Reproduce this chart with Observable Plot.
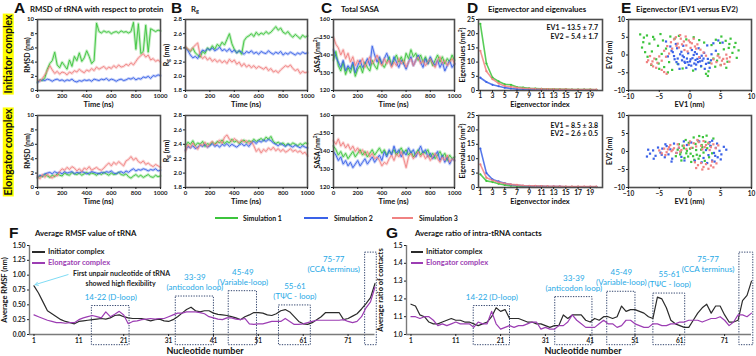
<!DOCTYPE html>
<html><head><meta charset="utf-8">
<script src="https://cdn.jsdelivr.net/npm/d3@7"></script>
<script src="https://cdn.jsdelivr.net/npm/@observablehq/plot@0.6"></script>
<style>
html,body{margin:0;padding:0;background:#fff;}
#fig{position:relative;width:756px;height:356px;overflow:hidden;font-family:Lato,"Open Sans",sans-serif;color:#111;}
.abs{position:absolute;white-space:nowrap;}
sub{font-size:70%;vertical-align:-0.25em;line-height:0;}
sup{font-size:70%;vertical-align:0.45em;line-height:0;}
</style></head><body><div id="fig"></div><script>
// ---------------- DATA ----------------
const simNames = ["Simulation 1", "Simulation 2", "Simulation 3"];
const timeNs = d3.range(0, 1001, 20);
// RMSD (nm) initiator complex
const rmsdInitSim1 = [1.2,1.5,1.4,1.8,3.0,3.8,4.2,5.4,3.6,3.2, 4.0,3.5,3.0,4.3,3.4,4.8,4.2,5.3,4.1,4.6, 5.6,4.8,3.8,4.2,9.5,8.3,8.1,8.4,8.2,8.3, 8.0,8.2,8.3,8.1,8.4,8.2,8.3,8.1,8.3,9.6, 5.8,9.4,5.2,5.5,9.2,5.4,8.7,8.5,8.3,8.5, 8.4];
const rmsdInitSim2 = [1.1,1.4,1.5,1.4,1.6,1.5,1.3,1.5,1.6,1.4, 1.5,1.3,1.5,1.4,1.6,1.3,1.2,1.4,1.3,1.5, 1.4,1.5,1.3,1.6,1.5,1.4,1.6,1.5,1.7,1.4, 1.6,1.5,1.3,1.5,1.6,1.4,1.5,1.7,1.6,1.8, 1.5,1.7,1.6,1.9,1.8,2.0,1.7,2.1,2.0,2.2, 2.1];
const rmsdInitSim3 = [1.5,1.3,1.7,2.2,2.8,3.5,2.9,2.4,2.7,2.3, 2.6,2.5,2.2,2.6,2.4,2.8,2.6,3.0,2.7,2.5, 2.9,2.7,3.1,2.8,3.3,3.0,3.2,3.4,3.0,3.3, 3.1,3.5,3.2,3.6,3.3,3.4,3.7,3.5,3.9,3.6, 4.1,4.6,4.9,5.2,4.7,5.0,4.3,4.5,4.1,4.3, 4.0];
// RMSD (nm) elongator complex
const rmsdElonSim1 = [1.3,1.6,1.5,1.8,1.6,1.4,1.7,1.5,1.9,1.7, 1.6,2.0,1.8,1.7,2.1,1.9,1.8,2.0,1.7,1.9, 2.1,1.8,2.0,1.9,1.7,2.0,1.8,2.1,1.9,1.7, 2.0,1.8,1.9,2.1,1.8,1.7,1.9,1.5,1.3,1.6, 1.8,1.5,1.7,1.4,1.6,1.8,1.5,1.4,1.7,1.5, 1.6];
const rmsdElonSim2 = [1.4,1.7,1.6,1.9,2.0,2.1,1.9,2.2,2.0,2.1, 1.9,2.2,2.0,2.1,2.2,1.9,2.1,2.0,2.2,2.1, 1.9,2.0,2.2,2.1,2.0,1.9,2.1,2.0,2.2,2.1, 2.3,2.0,1.9,2.1,2.2,2.0,2.3,2.1,2.4,2.6, 2.3,2.5,2.4,2.6,2.5,2.3,2.5,2.4,2.6,2.3, 2.4];
const rmsdElonSim3 = [1.6,1.2,1.8,1.4,1.9,1.5,1.3,1.7,1.6,2.2, 2.6,2.4,2.8,2.5,2.9,2.7,2.3,2.6,2.2,2.7, 2.5,2.9,2.4,2.6,2.8,2.5,2.4,2.7,3.1,3.4, 3.0,3.5,3.2,3.6,3.3,3.0,3.7,3.9,4.3,3.8, 4.1,3.6,3.4,3.7,3.2,3.4,3.1,2.9,3.2,3.0, 2.8];
// Rg (nm)
const rgInitSim1 = [2.41,2.38,2.35,2.40,2.33,2.30,2.27,2.35,2.32,2.40, 2.37,2.43,2.38,2.45,2.42,2.48,2.44,2.52,2.60,2.46, 2.38,2.33,2.36,2.31,2.50,2.55,2.57,2.60,2.56,2.62, 2.58,2.61,2.59,2.63,2.60,2.62,2.66,2.70,2.65,2.68, 2.62,2.60,2.63,2.58,2.55,2.59,2.56,2.53,2.58,2.55, 2.57];
const rgInitSim2 = [2.40,2.36,2.30,2.26,2.28,2.25,2.32,2.37,2.35,2.39, 2.37,2.40,2.36,2.38,2.41,2.36,2.38,2.35,2.39,2.34, 2.37,2.33,2.36,2.34,2.31,2.35,2.33,2.36,2.32,2.34, 2.31,2.35,2.33,2.32,2.36,2.33,2.31,2.34,2.32,2.35, 2.30,2.33,2.31,2.34,2.32,2.30,2.33,2.31,2.34,2.32, 2.33];
const rgInitSim3 = [2.42,2.38,2.36,2.40,2.44,2.47,2.30,2.25,2.28,2.23, 2.26,2.21,2.24,2.20,2.23,2.19,2.22,2.18,2.24,2.20, 2.23,2.17,2.20,2.14,2.18,2.13,2.16,2.12,2.15,2.11, 2.14,2.12,2.10,2.13,2.08,2.11,2.06,2.08,2.05,2.09, 2.12,2.15,2.13,2.16,2.11,2.08,2.10,2.04,2.07,2.05, 2.06];
const rgElonSim1 = [2.38,2.43,2.40,2.45,2.38,2.42,2.40,2.44,2.37,2.41, 2.39,2.43,2.40,2.44,2.42,2.46,2.41,2.44,2.42,2.47, 2.43,2.45,2.41,2.44,2.46,2.42,2.45,2.43,2.47,2.44, 2.46,2.48,2.45,2.50,2.47,2.51,2.44,2.41,2.43,2.40, 2.42,2.38,2.41,2.39,2.42,2.40,2.38,2.41,2.39,2.42, 2.41];
const rgElonSim2 = [2.32,2.37,2.35,2.38,2.34,2.36,2.39,2.37,2.40,2.36, 2.38,2.41,2.37,2.39,2.36,2.40,2.38,2.41,2.37,2.40, 2.38,2.36,2.39,2.41,2.38,2.40,2.37,2.42,2.44,2.41, 2.45,2.43,2.46,2.44,2.47,2.45,2.42,2.40,2.38,2.41, 2.39,2.37,2.40,2.38,2.36,2.39,2.37,2.35,2.38,2.36, 2.35];
const rgElonSim3 = [2.30,2.40,2.35,2.42,2.37,2.33,2.40,2.38,2.43,2.36, 2.41,2.44,2.39,2.42,2.46,2.41,2.50,2.53,2.47,2.44, 2.48,2.45,2.42,2.46,2.43,2.45,2.41,2.44,2.38,2.30, 2.34,2.28,2.33,2.30,2.35,2.32,2.36,2.31,2.34,2.30, 2.33,2.29,2.31,2.34,2.30,2.32,2.29,2.31,2.27,2.29, 2.24];
// SASA (nm^2)
const sasaInitSim1 = [137,142,134,131,136,129,133,130,135,128, 132,134,130,136,133,131,137,134,132,138, 135,133,136,139,134,137,140,136,139,135, 141,138,143,139,141,137,140,136,139,135, 138,134,137,140,136,139,135,138,136,140, 137];
const sasaInitSim2 = [143,139,136,133,137,131,134,132,136,130, 134,137,133,135,138,134,145,140,136,139, 135,138,141,137,134,139,136,133,137,135, 132,136,139,134,137,140,136,133,138,135, 139,136,134,137,133,136,131,134,137,133, 135];
const sasaInitSim3 = [150,146,144,140,143,138,141,136,139,134, 137,135,138,133,136,139,135,137,140,136, 134,138,135,137,133,136,134,138,135,137, 133,136,138,134,137,139,135,137,134,136, 138,135,133,137,139,135,137,134,136,138, 135];
const sasaElonSim1 = [143,141,138,140,137,139,136,138,140,137, 139,141,138,140,137,139,141,138,140,142, 139,141,138,140,139,141,138,140,142,139, 141,138,140,137,139,141,138,140,139,141, 137,139,136,138,140,137,139,135,138,136, 137];
const sasaElonSim2 = [140,138,135,137,133,135,132,134,131,133, 135,132,134,136,133,135,137,134,136,138, 135,140,137,141,138,143,139,141,137,140, 138,142,139,141,137,140,143,139,141,137, 139,136,138,140,135,138,134,137,133,136, 135];
const sasaElonSim3 = [146,144,147,143,145,142,144,141,143,140, 142,139,141,138,140,137,139,136,137,135, 132,134,133,136,138,135,139,137,140,136, 131,137,139,136,138,140,137,139,136,138, 135,137,139,136,134,137,135,138,134,136, 135];
// Eigenvalues (nm^2), eigenvector index 1..20
const eigIndex = d3.range(1, 21);
const eigInitSim1 = [23.5,9.5,4.5,3.2,2.2,2.0,1.2,1.0,0.8,0.7,0.6,0.5,0.5,0.4,0.4,0.35,0.3,0.3,0.3,0.25];
const eigInitSim2 = [4.5,3.0,2.0,1.5,1.0,0.7,0.5,0.4,0.35,0.3,0.3,0.25,0.25,0.2,0.2,0.2,0.2,0.2,0.15,0.15];
const eigInitSim3 = [14,6.8,4.0,2.5,1.6,1.3,1.0,0.8,0.7,0.6,0.55,0.5,0.45,0.4,0.4,0.35,0.35,0.3,0.3,0.3];
const eigElonSim1 = [4.6,2.3,1.9,1.3,0.9,0.6,0.5,0.4,0.35,0.3,0.3,0.25,0.25,0.2,0.2,0.2,0.2,0.15,0.15,0.15];
const eigElonSim2 = [13.5,5.0,2.8,2.1,1.5,1.0,0.8,0.6,0.5,0.45,0.4,0.35,0.3,0.3,0.25,0.25,0.2,0.2,0.2,0.2];
const eigElonSim3 = [8.0,3.4,2.5,1.8,1.4,1.1,0.9,0.7,0.6,0.55,0.5,0.45,0.4,0.4,0.35,0.35,0.3,0.3,0.3,0.3];
const eigInitText = ["EV1 = 13.5 ± 7.7", "EV2 = 5.4 ± 1.7"];
const eigElonText = ["EV1 = 8.5 ± 3.8", "EV2 = 2.6 ± 0.5"];
// Projections EV1 vs EV2 (nm)
const pcaInitSim1 = [[-8.1,5.8],[-7.5,4.9],[-7.0,5.5],[-6.6,3.2],[-7.8,2.1],[-6.2,1.0],[-5.8,4.4],[-5.2,2.6],[-4.8,5.9],[-6.9,-0.5],[-5.5,-1.2],[-4.6,0.3],[-6.3,-2.8],[-4.2,-3.4],[-3.6,-4.9],[-5.0,-3.9],[-7.3,0.8],[-3.9,1.8],[-4.4,4.1],[-3.2,5.2],[-2.5,4.6],[-1.8,5.4],[0.6,5.0],[1.5,4.2],[2.3,3.5],[-1.2,-3.8],[0.5,-4.4],[2.6,-5.3],[1.8,-3.2],[3.0,-4.6],[-2.0,-2.5],[3.5,2.8],[4.2,4.3],[5.1,5.2],[5.8,4.0],[6.4,3.1],[7.2,2.2],[6.9,0.6],[7.6,-0.8],[5.5,1.6],[4.6,0.2],[6.1,-1.9],[5.0,-2.8],[4.1,-3.3],[3.8,-1.0],[7.9,1.3],[6.6,4.6],[4.9,3.4],[3.2,-2.2],[5.9,-3.6],[-7.6,3.6],[-6.0,5.1],[-5.1,-2.4],[-3.4,-2.0],[6.3,2.0],[7.4,3.4],[2.9,-5.9],[-2.9,-4.2],[-0.6,4.4],[4.4,-1.6]];
const pcaInitSim2 = [[-3.2,2.4],[-2.8,0.8],[-2.5,-1.2],[-2.1,1.9],[-1.9,-2.6],[-1.6,0.2],[-1.3,-1.5],[-1.0,-0.6],[-0.8,-2.2],[-0.5,-1.0],[-0.3,0.5],[0.0,-1.8],[0.2,-3.0],[0.4,-0.9],[0.7,-2.4],[0.9,-1.4],[1.1,0.3],[1.3,-2.0],[1.6,-0.8],[1.8,-3.1],[2.0,-1.6],[2.3,0.6],[2.6,-2.5],[2.9,-1.1],[3.2,-3.6],[3.5,0.2],[-3.6,-0.4],[-3.9,3.8],[-2.3,3.1],[-1.1,2.6],[0.3,1.4],[1.4,1.9],[2.8,2.7],[3.8,3.3],[4.6,4.1],[5.3,3.5],[4.2,1.2],[-0.6,-3.6],[0.9,-4.0],[-1.7,-3.9],[-2.6,-0.3],[-0.2,-2.8],[1.9,-0.2],[2.4,-3.9],[-1.4,0.9],[0.6,0.0],[-0.9,-1.9],[1.2,-1.1],[-2.0,-1.0],[3.0,-2.2],[0.1,-1.2],[-0.4,-2.0],[1.0,-2.7],[2.2,-1.0],[-1.2,-0.2],[1.6,-1.8],[-2.2,-2.0],[0.8,0.8],[-3.0,1.2],[3.4,-1.5]];
const pcaInitSim3 = [[-4.2,1.2],[-3.7,2.5],[-3.1,3.6],[-2.6,4.4],[-2.0,3.2],[-1.5,4.6],[-1.0,3.8],[-0.6,2.7],[-0.2,4.1],[0.3,3.3],[0.8,2.4],[1.2,3.0],[1.7,1.5],[2.2,0.7],[2.6,-0.2],[-2.9,1.8],[-1.8,2.1],[-0.9,1.4],[0.1,2.0],[-3.4,0.4],[-2.3,5.0],[-0.7,5.2],[0.6,4.6],[1.5,-0.6],[-6.8,-1.5],[-6.3,-2.6],[-5.8,-1.0],[-5.3,-2.2],[-6.0,-3.2],[-5.0,-0.4],[-7.0,-2.0],[-5.5,-3.6],[-4.6,-1.6],[-4.2,-4.8],[-3.8,-5.3],[-4.6,-4.2],[-6.5,-0.3],[3.8,-1.2],[4.3,-2.0],[4.8,-0.7],[5.2,-1.6],[5.6,-2.5],[6.0,-1.0],[6.4,-1.9],[5.0,-2.9],[4.5,-0.2],[3.5,-2.4],[5.9,0.1],[6.5,-0.6],[-1.3,3.0],[0.0,3.6],[-2.2,2.6],[1.0,1.8],[-3.9,-0.5],[-6.1,-1.8],[5.4,-1.1],[-0.4,1.0],[-1.6,5.6]];
const pcaElonSim1 = [[-2.0,0.5],[-1.6,-0.8],[-1.2,1.6],[-0.9,-1.8],[-0.5,0.2],[-0.2,2.4],[0.1,-0.6],[0.4,1.0],[0.7,-2.3],[1.0,0.4],[1.3,3.0],[1.6,-1.2],[1.9,1.8],[2.2,-0.3],[2.5,2.7],[2.8,0.9],[3.1,-1.6],[3.4,1.4],[3.8,3.6],[0.6,3.9],[1.5,4.3],[2.1,4.0],[-0.7,3.2],[-1.4,-2.5],[0.2,-2.9],[2.4,-2.6],[-2.3,-1.3],[3.0,2.2],[-0.3,-1.4],[1.1,-0.9],[0.9,2.1],[-1.0,0.9],[3.6,-0.5],[1.8,0.5],[-1.8,2.0],[2.7,4.4],[0.0,0.8],[-0.6,-0.5],[1.4,-2.0],[2.0,1.2],[-1.5,-0.2],[0.5,-1.3]];
const pcaElonSim2 = [[-7.0,-1.4],[-6.5,-0.6],[-6.0,0.3],[-5.6,-1.2],[-5.2,1.1],[-4.8,-0.3],[-4.5,0.8],[-4.1,-1.6],[-3.8,1.5],[-3.5,-0.8],[-3.2,0.6],[-2.9,-2.0],[-2.6,2.2],[-2.2,-0.4],[-1.8,1.0],[-1.4,-1.5],[-5.9,-2.0],[-4.0,2.0],[2.2,-1.8],[2.6,0.4],[3.0,-1.0],[3.3,1.6],[3.6,-2.5],[3.9,-0.4],[4.2,1.0],[4.5,-1.6],[4.8,0.2],[5.1,-0.8],[5.5,1.3],[5.9,0.5],[4.0,-2.8],[3.2,2.6],[1.5,2.8],[0.8,-2.6],[-0.5,1.8],[-0.9,-2.5],[1.9,-3.0],[4.4,2.2],[-3.0,-2.8],[-6.8,0.5],[2.8,-3.2],[5.0,-2.2],[-1.0,2.8],[0.2,2.5],[3.6,3.0],[-4.6,-0.9],[4.1,-1.2]];
const pcaElonSim3 = [[-5.0,0.3],[-4.6,-0.5],[-4.2,0.8],[-3.8,-0.2],[-3.4,1.2],[-3.0,0.1],[-2.6,0.9],[-2.2,-0.4],[-1.8,1.1],[-1.4,0.4],[-1.0,1.6],[-0.6,0.7],[-0.2,1.9],[0.2,1.0],[0.6,2.3],[1.0,1.4],[1.4,2.6],[1.8,1.6],[2.2,2.9],[2.6,1.8],[3.0,2.4],[3.4,1.2],[3.8,2.0],[4.2,0.9],[4.6,1.7],[-3.2,1.8],[-2.0,2.0],[0.0,2.8],[2.0,0.6],[3.2,0.4],[-4.0,-1.0],[1.2,3.2],[0.8,-3.0],[1.3,-3.8],[1.8,-3.2],[2.2,-4.3],[2.6,-3.5],[3.0,-4.8],[3.4,-3.9],[3.8,-4.4],[4.3,-3.3],[2.0,-5.0],[1.0,-4.6],[3.6,-2.8],[-2.8,0.5],[-1.6,0.0],[2.4,1.2],[-3.6,0.6]];
// Per-nucleotide data (1..77)
const nucleotide = d3.range(1, 78);
const rmsfInit = [0.82,0.70,0.55,0.40,0.35,0.30,0.25,0.22,0.20,0.18, 0.22,0.23,0.24,0.25,0.26,0.27,0.26,0.28,0.32,0.33, 0.30,0.28,0.27,0.27,0.27,0.25,0.23,0.25,0.26,0.23, 0.22,0.25,0.30,0.36,0.42,0.46,0.40,0.38,0.40,0.40, 0.36,0.34,0.33,0.32,0.30,0.28,0.25,0.30,0.33,0.37, 0.37,0.36,0.33,0.32,0.35,0.40,0.42,0.38,0.30,0.22, 0.18,0.17,0.20,0.25,0.30,0.37,0.37,0.37,0.37,0.25, 0.27,0.31,0.35,0.43,0.52,0.62,0.86];
const rmsfElon = [0.33,0.30,0.27,0.24,0.22,0.20,0.20,0.19,0.20,0.20, 0.25,0.28,0.30,0.32,0.30,0.28,0.38,0.30,0.34,0.39, 0.33,0.18,0.22,0.23,0.25,0.26,0.27,0.26,0.27,0.27, 0.30,0.33,0.36,0.36,0.38,0.38,0.38,0.37,0.35,0.30, 0.28,0.26,0.25,0.28,0.28,0.26,0.25,0.27,0.18,0.17, 0.18,0.18,0.20,0.22,0.22,0.22,0.27,0.22,0.17,0.17, 0.18,0.20,0.22,0.24,0.24,0.24,0.24,0.24,0.24,0.25, 0.22,0.20,0.22,0.30,0.45,0.55,0.80];
const contactInit = [1.17,1.16,1.11,1.10,1.07,1.06,1.06,1.07,1.08,1.09, 1.08,1.08,1.07,1.07,1.06,1.05,1.06,1.07,1.10,1.15, 1.13,1.14,1.09,1.09,1.09,1.08,1.07,1.07,1.06,1.06, 1.05,1.04,1.05,1.05,1.11,1.09,1.11,1.11,1.11,1.08, 1.07,1.09,1.08,1.10,1.10,1.09,1.10,1.16,1.13,1.14, 1.14,1.13,1.12,1.10,1.09,1.21,1.20,1.15,1.08,1.06, 1.05,1.04,1.04,1.08,1.12,1.15,1.17,1.12,1.16,1.16, 1.11,1.07,1.07,1.08,1.19,1.22,1.30];
const contactElon = [1.10,1.10,1.09,1.10,1.10,1.08,1.05,1.06,1.05,1.06, 1.07,1.06,1.06,1.06,1.04,1.07,1.06,1.06,1.13,1.06, 1.03,1.04,1.05,1.04,1.05,1.05,1.06,1.07,1.07,1.03, 1.04,1.03,1.03,1.05,1.05,1.07,1.11,1.08,1.06,1.04, 1.04,1.04,1.06,1.08,1.06,1.06,1.04,1.05,1.08,1.08, 1.06,1.05,1.04,1.04,1.06,1.06,1.05,1.05,1.06,1.06, 1.07,1.07,1.08,1.08,1.08,1.07,1.08,1.09,1.09,1.10, 1.08,1.05,1.07,1.11,1.11,1.10,1.12];
const complexNames = ["Initiator complex", "Elongator complex"];
// tRNA regions (nucleotide extents of dashed boxes and their top value)
const regionLabels = [["", "14-22 (D-loop)"], ["33-39", "(anticodon loop)"], ["45-49", "(Variable-loop)"], ["55-61", "(TΨC - loop)"], ["75-77", "(CCA terminus)"]];
const rmsfRegionX = [[13.9,22.3],[32.6,41.1],[44.4,50.7],[55.6,62.7],[74.8,77.4]];
const rmsfRegionTop = [0.48,0.64,0.73,0.49,1.38];
const contactRegionX = [[15.0,23.1],[33.2,41.5],[44.8,51.1],[55.1,62.2],[74.3,77.4]];
const contactRegionTop = [1.16,1.21,1.24,1.23,1.46];
const flexNote = ["First unpair nucleotide of tRNA", "showed high flexibility"];

// ---------------- STYLE ----------------
const simColors = ["#3cc43c", "#3a62e8", "#f08282"];
const cplxColors = ["#2b2b2b", "#9c3db3"];
const cyan = "#27a9e6";
const frameColor = "#4d4d4d";
const fig = document.getElementById("fig");

function addText(html, x, y, o = {}) {
  const d = document.createElement("div");
  d.className = "abs";
  d.innerHTML = html;
  const s = d.style;
  s.left = x + "px"; s.top = y + "px";
  s.fontSize = (o.size || 7.5) + "px";
  s.fontWeight = o.weight || "bold";
  s.color = o.color || "#111";
  s.fontFamily = o.family || "Lato, sans-serif";
  s.lineHeight = o.lh || "1";
  const ax = o.anchor === "start" ? "0" : o.anchor === "end" ? "-100%" : "-50%";
  s.transform = `translate(${ax},-50%)` + (o.rotate ? " rotate(-90deg)" : "");
  if (o.bg) { s.background = o.bg; s.padding = o.pad || "1px 2px"; }
  fig.appendChild(d);
  return d;
}
function addLine(x1, x2, y, color, w = 2) {
  const d = document.createElement("div");
  d.className = "abs";
  Object.assign(d.style, {left: x1 + "px", top: (y - w / 2) + "px", width: (x2 - x1) + "px", height: w + "px", background: color});
  fig.appendChild(d);
}
function panel(b, opts, fs = 6.5) {
  const mL = 30, mR = 8, mT = 8, mB = 16;
  const chart = Plot.plot({
    width: b.x1 - b.x0 + mL + mR, height: b.y1 - b.y0 + mT + mB,
    marginLeft: mL, marginRight: mR, marginTop: mT, marginBottom: mB,
    style: {fontFamily: "Lato, sans-serif", fontSize: fs + "px", fontWeight: "bold", color: "#222", background: "none", overflow: "visible"},
    ...opts
  });
  chart.style.position = "absolute";
  chart.style.left = (b.x0 - mL) + "px";
  chart.style.top = (b.y0 - mT) + "px";
  fig.appendChild(chart);
}
const colorScale = {domain: simNames, range: simColors};
const intFmt = d3.format("d");
function seriesRows(arrs, xs) {
  const rows = [];
  arrs.forEach((arr, k) => arr.forEach((v, i) => rows.push({x: xs[i], v, sim: simNames[k]})));
  return rows;
}
function tsPanel(b, arrs, yDomain, yTicks, yFmt) {
  const rows = seriesRows(arrs, timeNs);
  panel(b, {
    x: {domain: [0, 1000]}, y: {domain: yDomain}, color: colorScale,
    marks: [
      Plot.line(rows, {x: "x", y: "v", z: "sim", stroke: "sim", strokeWidth: 2.8, strokeOpacity: 0.3}),
      Plot.line(rows, {x: "x", y: "v", z: "sim", stroke: "sim", strokeWidth: 0.9}),
      Plot.frame({stroke: frameColor, strokeWidth: 1.6}),
      Plot.axisX({ticks: [0, 200, 400, 600, 800, 1000], tickFormat: intFmt, tickSize: 2, tickPadding: 1.5, label: null}),
      Plot.axisY({ticks: yTicks, tickFormat: yFmt || intFmt, tickSize: 2, tickPadding: 1.5, label: null})
    ]
  }, 6);
}
function eigPanel(b, arrs) {
  const rows = seriesRows(arrs, eigIndex);
  panel(b, {
    x: {domain: [0.7, 21]}, y: {domain: [0, 25]}, color: colorScale,
    marks: [
      Plot.line(rows, {x: "x", y: "v", z: "sim", stroke: "sim", strokeWidth: 1.6, strokeOpacity: 0.85}),
      Plot.dot(rows, {x: "x", y: "v", fill: "sim", r: 1.1}),
      Plot.frame({stroke: frameColor, strokeWidth: 1.6}),
      Plot.axisX({ticks: d3.range(1, 20, 2), tickSize: 2, tickPadding: 1, label: null}),
      Plot.axisY({ticks: [0, 5, 10, 15, 20, 25], tickSize: 2, tickPadding: 1.5, label: null})
    ]
  }, 6.8);
}
function pcaPanel(b, arrs) {
  const rows = [];
  arrs.forEach((arr, k) => arr.forEach(([x, y]) => rows.push({x, y, sim: simNames[k]})));
  panel(b, {
    x: {domain: [-10, 10]}, y: {domain: [-10, 10]}, color: colorScale,
    marks: [
      Plot.dot(rows, {x: "x", y: "y", fill: "sim", r: 1.25, symbol: "square"}),
      Plot.frame({stroke: frameColor, strokeWidth: 1.6}),
      Plot.axisX({ticks: [-10, -5, 0, 5, 10], tickFormat: intFmt, tickSize: 2, tickPadding: 1.5, label: null}),
      Plot.axisY({ticks: [-10, -5, 0, 5, 10], tickFormat: intFmt, tickSize: 2, tickPadding: 1.5, label: null})
    ]
  }, 6.5);
}

// ---------------- LAYOUT ----------------
const rowTop = {y0: 19, y1: 90}, rowBot = {y0: 115, y1: 187};
const colA = {x0: 37, x1: 160}, colB = {x0: 185, x1: 307}, colC = {x0: 333, x1: 454}, colD = {x0: 478, x1: 602}, colE = {x0: 628, x1: 751};
const f1 = d3.format(".1f");
tsPanel({...colA, ...rowTop}, [rmsdInitSim1, rmsdInitSim2, rmsdInitSim3], [0, 10], [0, 2, 4, 6, 8, 10]);
tsPanel({...colA, ...rowBot}, [rmsdElonSim1, rmsdElonSim2, rmsdElonSim3], [0, 10], [0, 2, 4, 6, 8, 10]);
tsPanel({...colB, ...rowTop}, [rgInitSim1, rgInitSim2, rgInitSim3], [1.8, 2.8], [1.8, 2.0, 2.2, 2.4, 2.6, 2.8], f1);
tsPanel({...colB, ...rowBot}, [rgElonSim1, rgElonSim2, rgElonSim3], [1.8, 2.8], [1.8, 2.0, 2.2, 2.4, 2.6, 2.8], f1);
tsPanel({...colC, ...rowTop}, [sasaInitSim1, sasaInitSim2, sasaInitSim3], [120, 160], [120, 130, 140, 150, 160]);
tsPanel({...colC, ...rowBot}, [sasaElonSim1, sasaElonSim2, sasaElonSim3], [120, 160], [120, 130, 140, 150, 160]);
eigPanel({...colD, ...rowTop}, [eigInitSim1, eigInitSim2, eigInitSim3]);
eigPanel({...colD, ...rowBot}, [eigElonSim1, eigElonSim2, eigElonSim3]);
pcaPanel({...colE, ...rowTop}, [pcaInitSim1, pcaInitSim2, pcaInitSim3]);
pcaPanel({...colE, ...rowBot}, [pcaElonSim1, pcaElonSim2, pcaElonSim3]);

// eigen summary text
addText(eigInitText[0], 598, 26.5, {anchor: "end", size: 7});
addText(eigInitText[1], 598, 35.5, {anchor: "end", size: 7});
addText(eigElonText[0], 598, 124.5, {anchor: "end", size: 7});
addText(eigElonText[1], 598, 133, {anchor: "end", size: 7});

// panel letters and titles
const L = {family: "'Liberation Sans', Arial, sans-serif", size: 15.5, anchor: "start", weight: "bold"};
const T = {anchor: "start", size: 7.8};
addText("A", 14, 7.8, L);
addText("RMSD of tRNA with respect to protein", 30, 9.5, T);
addText("B", 171, 7.8, L);
addText("R<sub>g</sub>", 191, 9.5, T);
addText("C", 321, 7.8, L);
addText("Total SASA", 341, 9.5, T);
addText("D", 467, 7.8, L);
addText("Eigenvector and eigenvalues", 488, 9.5, T);
addText("E", 621, 7.8, L);
addText("Eigenvector (EV1 versus EV2)", 636, 9.5, T);

// side labels
addText(complexNames[0], 7.5, 54, {rotate: true, size: 10.5, bg: "#ffff00", pad: "0px 1px"});
addText(complexNames[1], 7.5, 152, {rotate: true, size: 10.5, bg: "#ffff00", pad: "0px 1px"});

// axis titles
for (const r of [{yc: 54.5, xl: 104.5}, {yc: 151, xl: 201.5}]) {
  addText("RMSD (nm)", 26.5, r.yc, {rotate: true, size: 7});
  addText("R<sub>g</sub> (nm)", 166, r.yc, {rotate: true, size: 7});
  addText("SASA (nm<sup>2</sup>)", 317, r.yc, {rotate: true, size: 7});
  addText("Eigenvalues (nm<sup>2</sup>)", 462, r.yc, {rotate: true, size: 7});
  addText("EV2 (nm)", 609, r.yc, {rotate: true, size: 7});
  addText("Time (ns)", 98.5, r.xl, {size: 7.5});
  addText("Time (ns)", 246, r.xl, {size: 7.5});
  addText("Time (ns)", 393.5, r.xl, {size: 7.5});
  addText("Eigenvector index", 540, r.xl, {size: 7.5});
  addText("EV1 (nm)", 689.5, r.xl, {size: 7.5});
}

// simulation legend
const legX = [[215, 238, 243], [304, 328, 334], [392, 413, 419]];
simNames.forEach((n, i) => {
  addLine(legX[i][0], legX[i][1], 218, simColors[i], 2);
  addText(n, legX[i][2], 218, {anchor: "start", size: 7});
});

// ---------------- F and G ----------------
function nucPanel(b, arrs, yDomain, yTicks, yFmt, regX, regTop, regBottom, extra) {
  const rows = [];
  arrs.forEach((arr, k) => arr.forEach((v, i) => rows.push({x: nucleotide[i], v, c: complexNames[k]})));
  const regs = regX.map((r, i) => ({x1: r[0], x2: r[1], top: regTop[i], bottom: regBottom, l1: regionLabels[i][0], l2: regionLabels[i][1], last: i === regX.length - 1}));
  const inner = regs.filter(d => !d.last), last = regs.filter(d => d.last);
  const mid = d => (d.x1 + d.x2) / 2;
  panel(b, {
    x: {domain: [0, 77]}, y: {domain: yDomain},
    color: {domain: complexNames, range: cplxColors},
    marks: [
      Plot.rect(regs, {x1: "x1", x2: "x2", y1: "bottom", y2: "top", fill: "none", stroke: "#33456e", strokeWidth: 1, strokeDasharray: "1.3,1.3"}),
      Plot.ruleX([0], {stroke: "#7a7a7a", strokeWidth: 1.4}),
      Plot.ruleY([yDomain[0]], {stroke: "#7a7a7a", strokeWidth: 1.4}),
      Plot.line(rows, {x: "x", y: "v", z: "c", stroke: "c", strokeWidth: 1.2}),
      Plot.text(inner, {x: mid, y: "top", text: "l2", dy: -9, fill: cyan, fontSize: 8, fontWeight: "normal"}),
      Plot.text(inner, {x: mid, y: "top", text: "l1", dy: -19, fill: cyan, fontSize: 8, fontWeight: "normal"}),
      Plot.text(last, {x: d => d.x1 - 7, y: "top", text: "l1", dy: 7, fill: cyan, fontSize: 8, fontWeight: "normal"}),
      Plot.text(last, {x: d => d.x1 - 7, y: "top", text: "l2", dy: 17, fill: cyan, fontSize: 8, fontWeight: "normal"}),
      ...(extra || []),
      Plot.axisX({ticks: d3.range(1, 72, 10), tickSize: 2, tickPadding: 2, label: null}),
      Plot.axisY({ticks: yTicks, tickFormat: yFmt, tickSize: 2, tickPadding: 2, label: null})
    ]
  }, 6.5);
}
const fExtra = [
  Plot.arrow([0], {x1: 8.6, y1: 1.01, x2: 1.25, y2: rmsfInit[0] + 0.02, stroke: "#7fdcf5", strokeWidth: 1, headLength: 5}),
  Plot.text([flexNote[0]], {x: 20.5, y: 1.02, text: d => d, fontSize: 7, fill: "#222"}),
  Plot.text([flexNote[1]], {x: 20.3, y: 0.85, text: d => d, fontSize: 7, fill: "#222"})
];
nucPanel({x0: 28.5, x1: 374, y0: 245, y1: 334}, [rmsfInit, rmsfElon], [0, 1.5], [0, 0.25, 0.5, 0.75, 1, 1.25, 1.5], d3.format(".2f"), rmsfRegionX, rmsfRegionTop, -0.18, fExtra);
nucPanel({x0: 406, x1: 751, y0: 245, y1: 334}, [contactInit, contactElon], [1.0, 1.5], [1.0, 1.1, 1.2, 1.3, 1.4, 1.5], f1, contactRegionX, contactRegionTop, 0.94, []);

addText("F", 9, 232.5, L);
addText("Average RMSF value of tRNA", 35, 234, T);
addText("G", 386, 232.5, L);
addText("Average ratio of intra-tRNA contacts", 415, 234, T);
addText("Nucleotide number", 205, 350, {size: 9});
addText("Nucleotide number", 583, 350, {size: 9});
addText("Average RMSF (nm)", 5, 290, {rotate: true, size: 7.5});
addText("Average ratio of contacts", 381, 290, {rotate: true, size: 7.5});
// F/G legends
[[32, 45, 48], [411, 423, 426]].forEach(([a, b, t]) => {
  complexNames.forEach((n, i) => {
    addLine(a, b, 252 + i * 11, cplxColors[i], 1.4);
    addText(n, t, 252 + i * 11, {anchor: "start", size: 7.5, color: i ? cplxColors[1] : "#222"});
  });
});
</script></body></html>
